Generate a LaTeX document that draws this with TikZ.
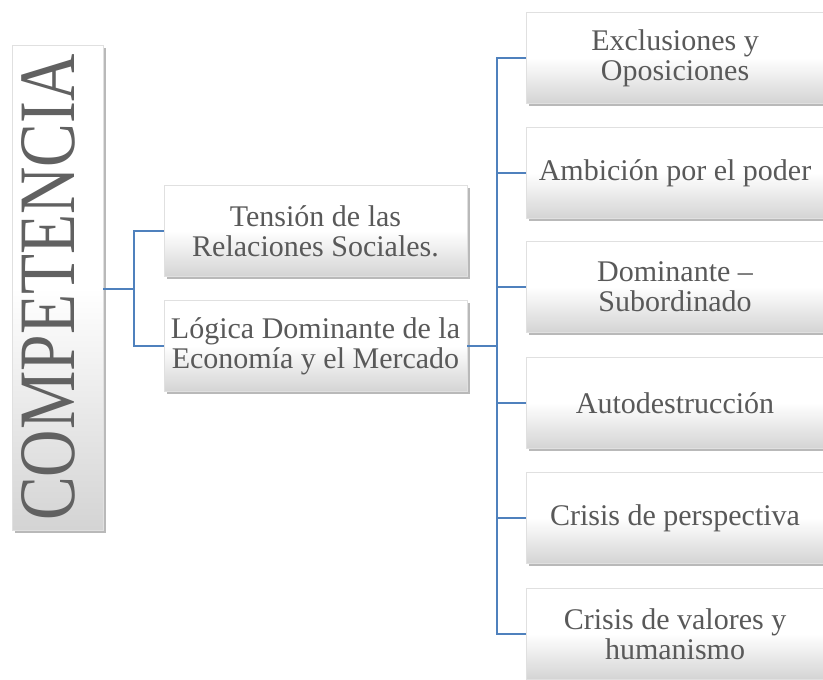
\documentclass[tikz,border=0pt]{standalone}
\usepackage{fontspec}
\setmainfont{Liberation Serif}
\usetikzlibrary{shadows}
\definecolor{linkblue}{HTML}{4F81BD}
\definecolor{textgray}{HTML}{595959}
\tikzset{
  box/.style={draw=black!12, line width=0.4pt, top color=white, bottom color=black!17, middle color=white,
    drop shadow={shadow xshift=2pt, shadow yshift=-2pt, opacity=0.55},
    text=textgray, align=center, inner sep=0pt,
    font=\fontsize{22.5}{22.5}\selectfont},
  link/.style={linkblue, line width=1.2pt}
}

\begin{document}
\begin{tikzpicture}[x=0.75pt, y=-0.75pt]
        \useasboundingbox (0,0) rectangle (823,680);
        \clip (0,0) rectangle (823,680);
        \node [box, minimum width=91*0.75pt, minimum height=485*0.75pt, text=black!62] (C) at (57.5,287.5)
            {\rotatebox{90}{\fontsize{60}{60}\selectfont\scalebox{0.82}[1]{COMPETENCIA}}\hspace{13pt}};
        \node [box, minimum width=303*0.75pt, minimum height=91*0.75pt] (T) at (315.5,231) {Tensión de las\\Relaciones Sociales.};
        \node [box, minimum width=303*0.75pt, minimum height=91*0.75pt] (L) at (315.5,346) {Lógica Dominante de la\\Economía y el Mercado};
        \foreach \n/\y/\txt in {1/58/{Exclusiones y\\Oposiciones}, 2/173/{Ambición por el poder},
            3/287/{Dominante –\\Subordinado}, 4/403/{Autodestrucción},
            5/518/{Crisis de perspectiva}, 6/634/{Crisis de valores y\\humanismo}}
            \node [box, minimum width=298*0.75pt, minimum height=91*0.75pt] (R\n) at (675,\y) {\txt};
        \coordinate (J1) at (134,289);
        \coordinate (J2) at (497,346);
        \draw [link] (J1 -| C.east) -- (J1);
        \draw [link] (J1) |- (T.west);
        \draw [link] (J1) |- (L.west);
        \draw [link] (L.east) -- (J2);
        \foreach \n in {1,...,6}
            \draw [link] (J2) |- (R\n.west);
    \end{tikzpicture}
\end{document}
